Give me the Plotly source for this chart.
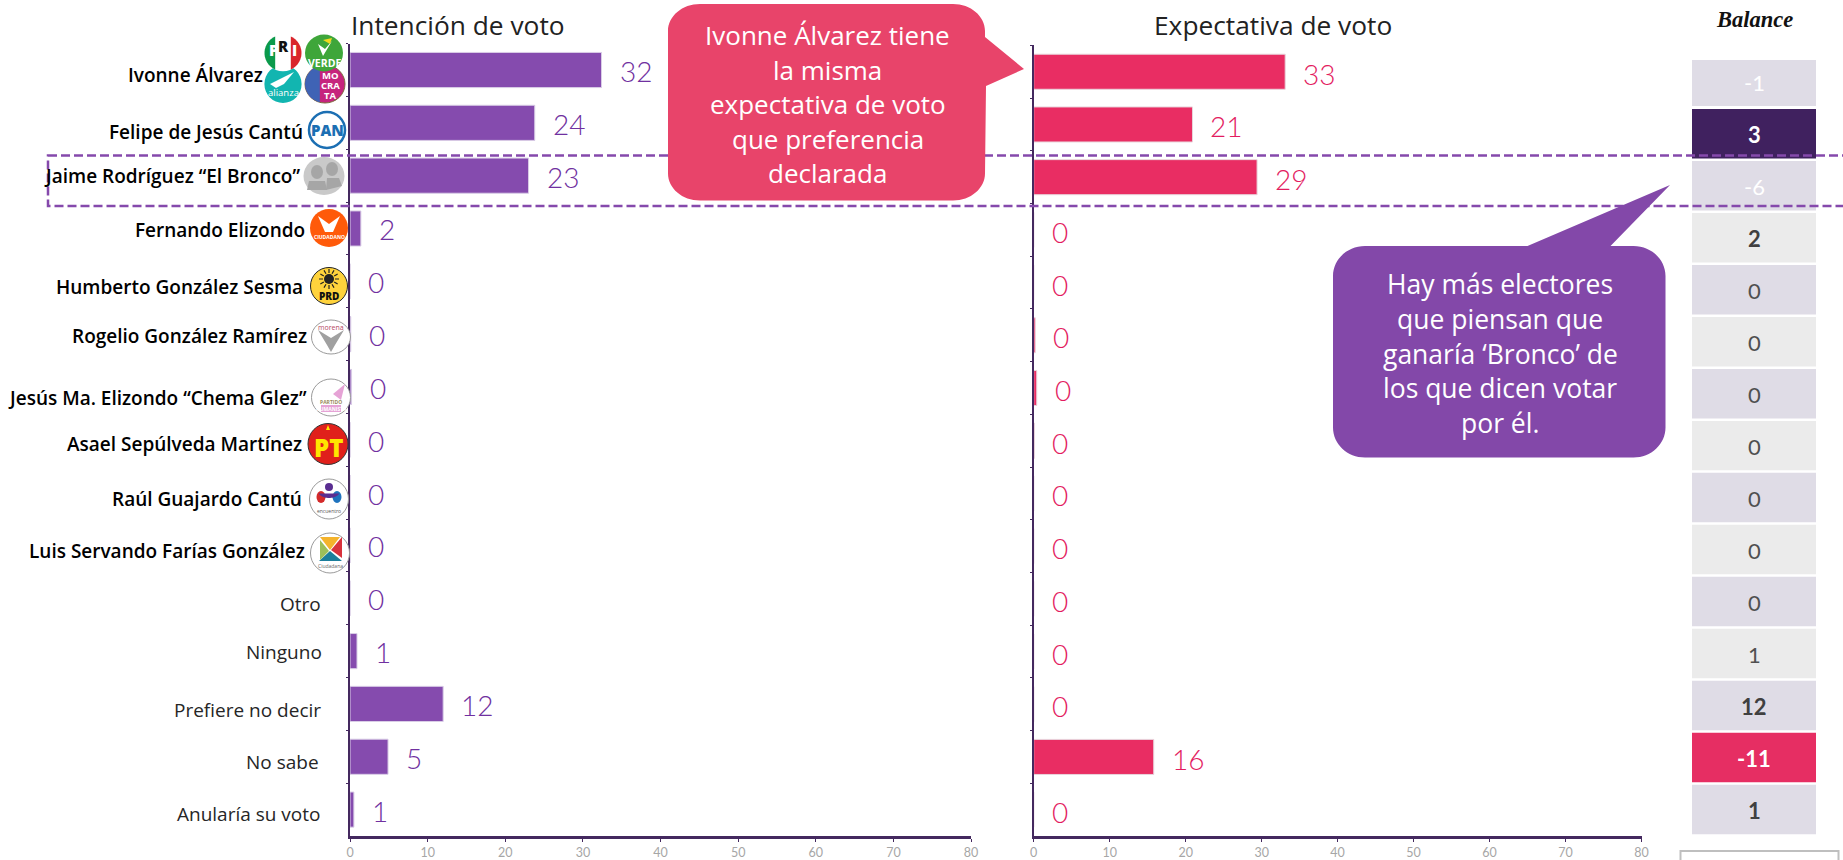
import math
import plotly.graph_objects as go

# ---------- data ----------
categories = ["Ivonne Álvarez", "Felipe de Jesús Cantú", "Jaime Rodríguez “El Bronco”", "Fernando Elizondo",
              "Humberto González Sesma", "Rogelio González Ramírez", "Jesús Ma. Elizondo “Chema Glez”",
              "Asael Sepúlveda Martínez", "Raúl Guajardo Cantú", "Luis Servando Farías González",
              "Otro", "Ninguno", "Prefiere no decir", "No sabe", "Anularía su voto"]
intencion = [32.4, 23.8, 23.0, 1.4, 0, 0.1, 0.2, 0, 0, 0, 0, 0.9, 12, 4.9, 0.5]
expectativa = [33.1, 20.9, 29.4, 0, 0, 0.2, 0.4, 0.1, 0, 0, 0, 0, 0, 15.8, 0]
intencion_labels = [32, 24, 23, 2, 0, 0, 0, 0, 0, 0, 0, 1, 12, 5, 1]
expectativa_labels = [33, 21, 29, 0, 0, 0, 0, 0, 0, 0, 0, 0, 0, 16, 0]
balance = [-1, 3, -6, 2, 0, 0, 0, 0, 0, 0, 0, 1, 12, -11, 1]
x_ticks = [0, 10, 20, 30, 40, 50, 60, 70, 80]
callout_pink = ["Ivonne Álvarez tiene", "la misma", "expectativa de voto", "que preferencia", "declarada"]
callout_purple = ["Hay más electores", "que piensan que", "ganaría ‘Bronco’ de", "los que dicen votar", "por él."]

# ---------- layout constants ----------
W, H = 1843, 860
PURPLE, PINK = "#854BAE", "#E92D63"
AXIS = "#44295F"
SANS = "Open Sans"
NUM = "Lato"
label_right = [264.5, 304.5, 301.5, 306.5, 304.5, 308.5, 308.5, 303.5, 303.5, 306.5, 322.5, 323.5, 322.5, 320.5, 322.5]
label_y = [75, 132, 176, 230, 287, 336, 398, 444, 499, 551, 604, 652, 710, 762, 814]
cell_fill = ["#DFDCE6", "#40215F", "#DFDCE6", "#EBEBEB", "#DFDCE6", "#EBEBEB", "#DFDCE6", "#EBEBEB",
             "#DFDCE6", "#EBEBEB", "#DFDCE6", "#EBEBEB", "#DFDCE6", "#E62E63", "#DFDCE6"]
cell_text = ["#FFFFFF", "#FFFFFF", "#FFFFFF", "#404040", "#505050", "#505050", "#505050", "#505050",
             "#505050", "#505050", "#505050", "#505050", "#404040", "#FFFFFF", "#404040"]
cell_weight = [400, 700, 400, 700, 400, 400, 400, 400, 400, 400, 400, 400, 700, 700, 700]


def dom(a, b):
    return [a / W, b / W]


def vdom(top, bottom):
    return [1 - bottom / H, 1 - top / H]


fig = go.Figure()
fig.add_trace(go.Bar(y=categories, x=intencion, orientation="h", xaxis="x", yaxis="y", width=0.665,
                     marker=dict(color=PURPLE, line=dict(color="#D9CDE6", width=1))))
fig.add_trace(go.Bar(y=categories, x=expectativa, orientation="h", xaxis="x2", yaxis="y2", width=0.665,
                     marker=dict(color=PINK, line=dict(color="#E8D5DC", width=1))))
fig.add_trace(go.Bar(y=categories, x=[1] * len(categories), orientation="h", xaxis="x3", yaxis="y3",
                     width=[0.884] + [0.952] * 14, offset=[-0.418] + [-0.476] * 14,
                     marker=dict(color=cell_fill, line=dict(width=0))))
# page-sized helper axes for the decoration layer (no data of its own)
fig.add_trace(go.Scatter(x=[None], y=[None], xaxis="x4", yaxis="y4", mode="markers", hoverinfo="skip",
                         showlegend=False))

annots = []
shapes = []
REF = dict(xref="x4", yref="y4")


def text(px, py, s, size=10, color="#000", anchor="center", weight=400, family=SANS, italic=False):
    annots.append(dict(**REF, x=px, y=py, text=s, showarrow=False,
                       xanchor=anchor, yanchor="middle", align=anchor,
                       font=dict(size=size, color=color, family=family, weight=weight,
                                 style="italic" if italic else "normal")))


def ell(cx, cy, rx, ry, fill, line=None, lw=1):
    shapes.append(dict(type="circle", **REF, x0=cx - rx, x1=cx + rx, y0=cy - ry, y1=cy + ry, fillcolor=fill,
                       line=dict(color=line or fill, width=lw if line else 0)))


def poly(pts, fill, line=None, lw=0):
    d = "M" + " L".join(f"{a:.2f},{b:.2f}" for a, b in pts) + " Z"
    shapes.append(dict(type="path", **REF, path=d, fillcolor=fill, line=dict(color=line or fill, width=lw)))


def seg(cx, cy, rx, ry, t0, t1, fill):
    n = 24
    pts = []
    for i in range(n + 1):
        t = math.radians(t0 + (t1 - t0) * i / n)
        pts.append((cx + rx * math.cos(t), cy + ry * math.sin(t)))
    poly(pts, fill)


def rrect(x0, y0, x1, y1, rx, ry, fill, wedge_side, wedge):
    """rounded rectangle with a pointer"""
    k = 0.5523
    def c(a, b, c_, d, e, f):
        return f"C{a:.2f},{b:.2f} {c_:.2f},{d:.2f} {e:.2f},{f:.2f}"
    d = f"M{x0 + rx:.2f},{y0:.2f}"
    if wedge_side == "top":
        for a, b in wedge:
            d += f" L{a:.2f},{b:.2f}"
    d += f" L{x1 - rx:.2f},{y0:.2f} " + c(x1 - rx + k * rx, y0, x1, y0 + ry - k * ry, x1, y0 + ry)
    if wedge_side == "right":
        for a, b in wedge:
            d += f" L{a:.2f},{b:.2f}"
    d += f" L{x1:.2f},{y1 - ry:.2f} " + c(x1, y1 - ry + k * ry, x1 - rx + k * rx, y1, x1 - rx, y1)
    d += f" L{x0 + rx:.2f},{y1:.2f} " + c(x0 + rx - k * rx, y1, x0, y1 - ry + k * ry, x0, y1 - ry)
    d += f" L{x0:.2f},{y0 + ry:.2f} " + c(x0, y0 + ry - k * ry, x0 + rx - k * rx, y0, x0 + rx, y0) + " Z"
    shapes.append(dict(type="path", **REF, path=d, fillcolor=fill, line=dict(width=0)))


# ---------- titles ----------
text(348.5, 25, "Intención de voto", 26.3, "#222222", "left")
text(1152, 25, "Expectativa de voto", 26.3, "#222222", "left")
text(1754, 19.5, "Balance", 22.5, "#111111", "center", 700, "Liberation Serif", True)

# ---------- category labels ----------
for i, cat in enumerate(categories):
    strong = i < 10
    text(label_right[i], label_y[i], cat, 19, "#000000" if strong else "#262626", "right", 600 if strong else 400)

# ---------- data labels ----------
for i, cat in enumerate(categories):
    annots.append(dict(xref="x", yref="y", x=intencion[i], y=cat, text=str(intencion_labels[i]), showarrow=False,
                       xanchor="left", yanchor="middle", xshift=16, yshift=-1,
                       font=dict(size=28, color="#7030A0", family=NUM, weight=300)))
    annots.append(dict(xref="x2", yref="y2", x=expectativa[i], y=cat, text=str(expectativa_labels[i]), showarrow=False,
                       xanchor="left", yanchor="middle", xshift=16, yshift=-2,
                       font=dict(size=28, color="#E31C5F", family=NUM, weight=300)))
    annots.append(dict(xref="x3", yref="y3", x=0.5, y=cat, text=str(balance[i]), showarrow=False,
                       xanchor="center", yanchor="middle", yshift=-1,
                       font=dict(size=22, color=cell_text[i], family=NUM, weight=cell_weight[i])))

# ---------- highlight box ----------
shapes.append(dict(type="rect", **REF, x0=48, x1=1870, y0=155.5, y1=206,
                   line=dict(color="#8549AC", width=2.5, dash="9px,4px")))

# ---------- callouts ----------
rrect(668, 4, 985, 200.5, 32, 27, "#E8446A", "right", [(985, 37), (1024, 69), (986, 86)])
rrect(1333, 246, 1665.5, 457.5, 32, 30, "#8348A9", "top", [(1527.5, 246), (1670, 185), (1610.5, 246)])
for s, y in zip(callout_pink, [35, 70, 104, 139, 173]):
    text(827.5, y, s, 26, "#FFFFFF")
for s, y in zip(callout_purple, [284, 319, 354, 388, 423]):
    text(1500, y, s, 26.5, "#FFFFFF")

# small open box, bottom right
shapes.append(dict(type="rect", **REF, x0=1680.5, x1=1838.5, y0=851, y1=880,
                   line=dict(color="#BFBFBF", width=2)))

# ---------- party badges ----------
# alianza
ell(283, 84, 18.6, 19, "#12B5B0")
poly([(270, 84), (294, 72), (284, 84), (276, 88)], "#FFFFFF")
text(283, 92, "alianza", 9.5, "#FFFFFF")
# mocrata
ell(325, 84, 20, 19, "#C6247D", "#7B6A3A", 1)
seg(325, 84, 20, 19, 105, 255, "#3F63B5")
for s, y in zip(["MO", "CRA", "TA"], [75, 85, 95]):
    text(330, y, s, 9.5, "#FFFFFF", weight=700)
# PRI
ell(283, 53, 18.5, 18.3, "#FFFFFF")
seg(283, 53, 18.5, 18.3, 115, 245, "#0B9A4B")
seg(283, 53, 18.5, 18.3, -65, 65, "#D9252C")
text(273, 50, "P", 15, "#FFFFFF", weight=800)
text(283, 46, "R", 15, "#111111", weight=800)
text(294, 50, "I", 15, "#FFFFFF", weight=800)
# verde
ell(324, 53, 19, 18.5, "#3EA63A")
poly([(318, 44), (323, 56), (332, 41), (325, 49)], "#FFFFFF")
poly([(323, 40), (332, 38), (330, 44)], "#F1D91F")
text(324, 63, "VERDE", 10.5, "#FFFFFF", weight=700)
# PAN
ell(327, 130, 18, 18, "#FFFFFF", "#1C6FB3", 2.5)
text(327, 130, "PAN", 15, "#1C6FB3", weight=800)
# independent
ell(324, 176, 20.5, 19, "#C9C9C9")
ell(317, 172, 6, 7, "#A6A6A6")
poly([(307, 190), (309, 181), (325, 181), (327, 190)], "#A6A6A6")
ell(332, 169, 6, 7, "#A6A6A6")
poly([(326, 190), (327, 178), (339, 178), (342, 186)], "#A6A6A6")
# MC
ell(329, 228, 19, 19, "#FF5A0A")
poly([(318, 216), (329, 224), (340, 216), (333, 232), (325, 232)], "#FFFFFF")
text(329, 237, "CIUDADANO", 5, "#FFFFFF", weight=700)
# PRD
ell(329, 286, 18.5, 18.5, "#FFD33C", "#222222", 1)
ell(329, 279, 5, 5, "#222222")
for t in range(0, 360, 30):
    a = math.radians(t)
    poly([(329 + 6 * math.cos(a), 279 + 6 * math.sin(a)), (329 + 10 * math.cos(a), 279 + 10 * math.sin(a))],
         "#222222", "#222222", 1.2)
text(329, 296, "PRD", 10, "#111111", weight=800)
# morena
ell(331, 337, 19.5, 17, "#FFFFFF", "#9A9A9A", 1)
poly([(318, 330), (331, 338), (344, 330), (335, 345), (331, 352), (327, 345)], "#A0A0A0")
text(331, 327, "morena", 7, "#B5495F")
# humanista
ell(331, 397.5, 19.5, 18.5, "#FFFFFF", "#9A9A9A", 1)
poly([(345, 384), (341, 400), (333, 394)], "#E6A3D6")
poly([(321, 405), (341, 405), (341, 412), (321, 412)], "#E6A3D6")
text(331, 402, "PARTIDO", 5, "#9A8A5A", weight=700)
text(331, 408.5, "HUMANISTA", 5, "#FFFFFF", weight=700)
# PT
ell(328, 444, 20, 20.5, "#E0201B", "#333333", 1)
text(328, 447, "PT", 24, "#FFE600", weight=800)
poly([(326, 430), (328, 425), (330, 430)], "#FFE600")
# encuentro
ell(329, 499, 19.5, 20, "#FFFFFF", "#9A9A9A", 1)
ell(329, 487, 4, 4, "#5A2D91")
ell(321, 497, 4.5, 6, "#D42A2A")
ell(337, 497, 4.5, 6, "#1E73BE")
seg(329, 491, 11, 7, 20, 160, "#5A2D91")
text(329, 511, "encuentro", 5, "#555555")
# cruzada
ell(330, 553, 19.5, 20, "#FFFFFF", "#9A9A9A", 1)
poly([(320, 537), (340, 537), (330, 550)], "#F4B32C")
poly([(342, 537), (342, 558), (331, 550)], "#D8323C")
poly([(330, 551), (342, 561), (319, 561)], "#1B7E9B")
poly([(320, 540), (329, 551), (320, 560)], "#9CBF5A")
text(330, 566, "Ciudadana", 5, "#666666")

# ---------- axes ----------
def xaxis(a, b, anchor):
    return dict(domain=dom(a, b), range=[0, 80], anchor=anchor, tickvals=x_ticks, ticks="outside", ticklen=3,
                tickcolor=AXIS, tickwidth=1, showline=True, linecolor=AXIS, linewidth=2.5, showgrid=False,
                zeroline=False, automargin=False, tickfont=dict(size=12.5, color="#A6A6A6", family=NUM, weight=400))


def yaxis(top, bottom, anchor):
    return dict(domain=vdom(top, bottom), type="category", categoryorder="array", categoryarray=categories,
                autorange="reversed", anchor=anchor, showticklabels=False, ticks="outside", ticklen=2,
                tickson="boundaries", tickcolor=AXIS, showline=True, linecolor=AXIS, linewidth=2, showgrid=False,
                zeroline=False, automargin=False)


fig.update_layout(
    template="none",
    width=W, height=H, margin=dict(l=0, r=0, t=0, b=0, pad=0, autoexpand=False), autosize=False,
    paper_bgcolor="#FFFFFF", plot_bgcolor="rgba(0,0,0,0)", showlegend=False, barmode="overlay",
    xaxis=xaxis(350, 971, "y"), yaxis=yaxis(43.6, 836, "x"),
    xaxis2=xaxis(1033.7, 1641.5, "y2"), yaxis2=yaxis(45.4, 836, "x2"),
    xaxis3=dict(domain=dom(1692, 1816), range=[0, 1], anchor="y3", visible=False),
    yaxis3=dict(domain=vdom(55.75, 835.5), type="category", categoryorder="array", categoryarray=categories,
                autorange="reversed", anchor="x3", visible=False),
    xaxis4=dict(domain=[0, 1], range=[0, W], anchor="y4", visible=False, fixedrange=True),
    yaxis4=dict(domain=[0, 1], range=[H, 0], anchor="x4", visible=False, fixedrange=True),
    shapes=shapes, annotations=annots,
)

fig.write_html("out.html", config={"displayModeBar": False, "responsive": False},
               post_script="document.body.style.margin='0';document.body.style.overflow='hidden';")
